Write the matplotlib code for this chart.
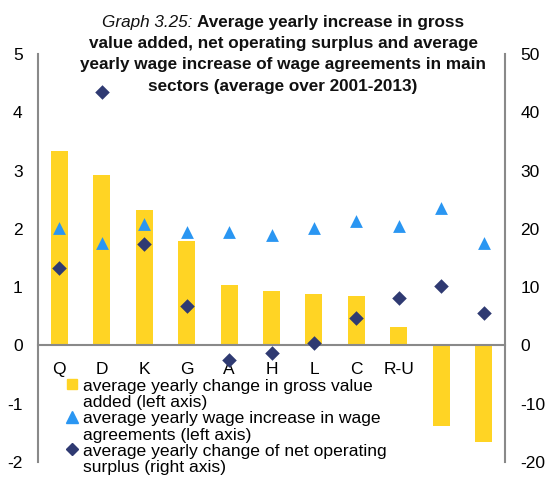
import matplotlib
matplotlib.use("Agg")
import matplotlib.pyplot as plt
from matplotlib.lines import Line2D
from matplotlib.legend_handler import HandlerLine2D
import numpy as np

plt.rcParams['font.family'] = ['Liberation Sans', 'DejaVu Sans']

categories = ["Q", "D", "K", "G", "A", "H", "L", "C", "R-U", "F", "I"]
gva_change = [3.33, 2.93, 2.32, 1.80, 1.04, 0.94, 0.89, 0.85, 0.31, -1.38, -1.66]
wage_increase = [2.01, 1.75, 2.08, 1.94, 1.94, 1.90, 2.02, 2.13, 2.05, 2.35, 1.76]
nos_change = [13.3, 43.4, 17.4, 6.7, -2.45, -1.3, 0.4, 4.7, 8.2, 10.2, 5.5]

left_ticks = [-2, -1, 0, 1, 2, 3, 4, 5]
right_ticks = [-20, -10, 0, 10, 20, 30, 40, 50]

labels = ["average yearly change in gross value\nadded (left axis)",
          "average yearly wage increase in wage\nagreements (left axis)",
          "average yearly change of net operating\nsurplus (right axis)"]

title_prefix = "Graph 3.25: "
title_lines = ["Average yearly increase in gross",
               "value added, net operating surplus and average",
               "yearly wage increase of wage agreements in main",
               "sectors (average over 2001-2013)"]

c_bar = "#FFD424"
c_tri = "#2A96F2"
c_dia = "#2F3A72"
c_axis = "#898989"

W, H = 549, 488
fig = plt.figure(figsize=(W / 100, H / 100), dpi=100)
ax = fig.add_axes([38 / W, 1 - 462 / H, (505 - 38) / W, (462 - 54) / H])
ax2 = ax.twinx()

x = np.arange(len(categories))
ax.bar(x, gva_change, width=0.4, color=c_bar, zorder=2)
ax.scatter(x, wage_increase, marker="^", s=85, color=c_tri, zorder=4, linewidths=0)
ax2.scatter(x, nos_change, marker="D", s=55, color=c_dia, zorder=4, linewidths=0)

ax.set_xlim(-0.5, len(categories) - 0.5)
ax.set_ylim(-2, 5)
ax2.set_ylim(-20, 50)
ax.set_yticks(left_ticks)
ax2.set_yticks(right_ticks)
ax.set_yticklabels([str(t) for t in left_ticks])
ax2.set_yticklabels([str(t) for t in right_ticks])

for a in (ax, ax2):
    for s in a.spines.values():
        s.set_color(c_axis)
        s.set_linewidth(1.5)
    a.spines['top'].set_visible(False)
ax.spines['bottom'].set_position(('data', 0))
ax2.spines['bottom'].set_visible(False)
ax.spines['right'].set_visible(False)
ax2.spines['left'].set_visible(False)
ax.tick_params(axis='y', length=0, labelsize=12.5, pad=11)
ax2.tick_params(axis='y', length=0, labelsize=12.5, pad=11)
ax.set_xticks(x)
ax.set_xticklabels(categories)
ax.tick_params(axis='x', length=0, labelsize=12.5, pad=12)
ax2.patch.set_visible(False)

# Title
tfs = 12.3
y0 = 1 - 22 / H
dy = 21.5 / H
xc = 283 / W
t1 = fig.text(0, y0, title_prefix, ha="left", va="center",
              fontsize=tfs, style="italic", color="#111111")
t2 = fig.text(0, y0, title_lines[0], ha="left", va="center",
              fontsize=tfs, fontweight="bold", color="#111111")
fig.canvas.draw()
r = fig.canvas.get_renderer()
w1 = t1.get_window_extent(r).width
w2 = t2.get_window_extent(r).width
start = 283 - (w1 + w2) / 2
t1.set_x(start / W)
t2.set_x((start + w1) / W)
for i, line in enumerate(title_lines[1:], start=1):
    fig.text(xc, y0 - i * dy, line, ha="center", va="center",
             fontsize=tfs, fontweight="bold", color="#111111")


class TopLineHandler(HandlerLine2D):
    def create_artists(self, legend, orig_handle, xdescent, ydescent,
                       width, height, fontsize, trans):
        arts = super().create_artists(legend, orig_handle, xdescent, ydescent,
                                      width, height, fontsize, trans)
        for a in arts:
            yd = np.asarray(a.get_ydata(), dtype=float)
            a.set_ydata(yd + fontsize * 0.6)
        return arts


handles = [Line2D([], [], marker="s", linestyle="none", color=c_bar, markersize=7),
           Line2D([], [], marker="^", linestyle="none", color=c_tri, markersize=8.5),
           Line2D([], [], marker="D", linestyle="none", color=c_dia, markersize=6.5)]
leg = fig.legend(handles, labels, loc="upper left", bbox_to_anchor=(66 / W, 1 - 379 / H),
                 frameon=False, fontsize=12.6, handlelength=0.7, handletextpad=0.25,
                 labelspacing=0.06, borderpad=0, borderaxespad=0,
                 handler_map={Line2D: TopLineHandler()})
for t in leg.get_texts():
    t.set_linespacing(1.12)

fig.savefig("out.png", dpi=100)
